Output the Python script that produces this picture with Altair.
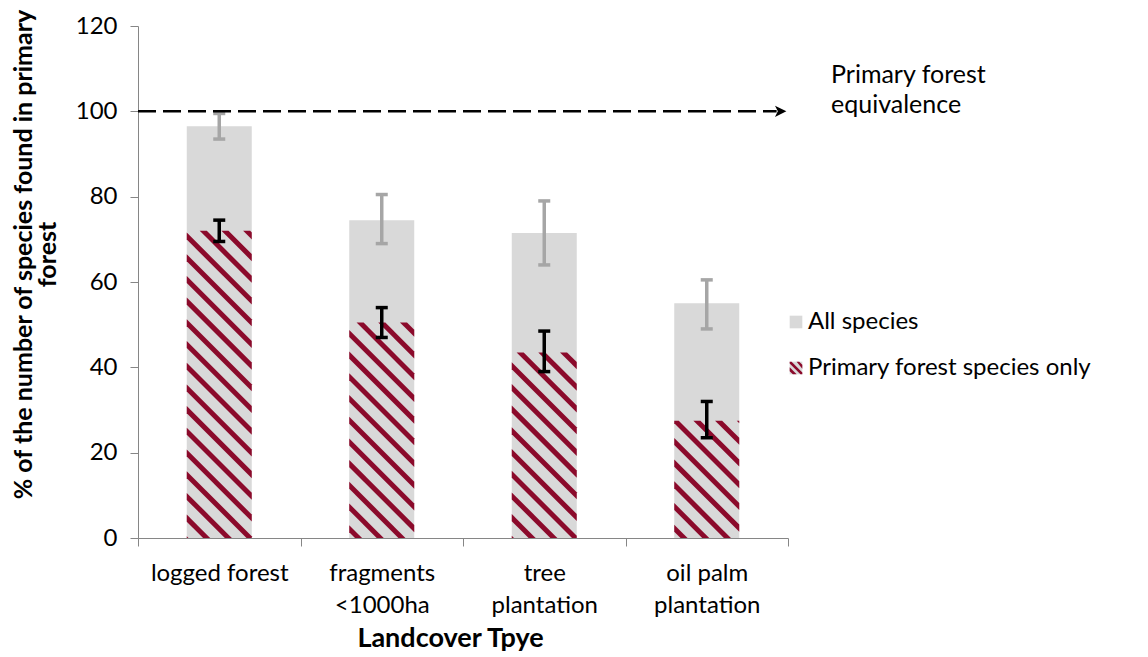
import json
import math
import altair as alt
import pandas as pd

# ---------------- data ----------------
categories = ["logged forest", "fragments\n<1000ha", "tree\nplantation", "oil palm\nplantation"]
series = ["All species", "Primary forest species only"]
all_mean = [96.5, 74.5, 71.5, 55.0]
all_lo = [93.5, 69.0, 64.0, 49.0]
all_hi = [99.5, 80.5, 79.0, 60.5]
prim_mean = [72.0, 50.5, 43.5, 27.5]
prim_lo = [69.5, 47.0, 39.0, 23.5]
prim_hi = [74.5, 54.0, 48.5, 32.0]
ref_value = [100]
ref_label = ["Primary forest\nequivalence"]
y_ticks = [0, 20, 40, 60, 80, 100, 120]

# ---------------- layout / style ----------------
W, H = 650, 512
XMIN, XMAX = -0.5, 3.5
YMAX = 120
BAR_HALF = 0.2
CAP_HALF = 0.037
GRAY = "#D9D9D9"
RED = "#8B0A2B"
ERR_GRAY = "#A6A6A6"
AXIS_GRAY = "#868686"
FONT = "Lato"
HATCH_PATH = ("M-1,-1L-0.7,-1L1,0.7L1,1L0.7,1L-1,-0.7Z"
              "M-1,-0.1L-1,0.5L-0.5,1L0.1,1Z"
              "M0.1,-1L0.5,-1L1,-0.5L1,0.1Z")
EMPTY_PATH = "M0,0Z"

sx = W / (XMAX - XMIN)
sy = H / YMAX
PERIOD = 21.7              # stripe period in px (pattern geometry)
BAND = 5.0 * math.sqrt(2)  # vertical thickness of a stripe in px

idx = list(range(len(categories)))

bars = pd.DataFrame({
    "xl": [i - BAR_HALF for i in idx],
    "xr": [i + BAR_HALF for i in idx],
    "value": all_mean,
})

# hatch stripes: parallelogram bands "\" clipped exactly to each primary-forest bar
rows = []
sid = 0
for i in idx:
    x0px = (i - BAR_HALF - XMIN) * sx
    wpx = 2 * BAR_HALF * sx
    hpx = prim_mean[i] * sy
    kmin = math.floor(x0px / PERIOD) - 2
    kmax = math.ceil((x0px + wpx + hpx) / PERIOD) + 2
    for k in range(kmin, kmax + 1):
        c1 = k * PERIOD - x0px
        c2 = c1 + BAND
        xa = max(0.0, c1 - hpx)
        xb = min(wpx, c2)
        if xb - xa <= 0.3:
            continue
        pts = sorted({xa, xb} | {p for p in (c1, c2 - hpx) if xa < p < xb})
        for p in pts:
            lo = max(0.0, c1 - p)
            hi = min(hpx, c2 - p)
            rows.append({"sid": sid, "x": i - BAR_HALF + p / sx,
                         "lo": lo / sy, "hi": max(hi, lo) / sy})
        sid += 1
stripes = pd.DataFrame(rows)

def err_frames(lo, hi):
    v = pd.DataFrame({"x": idx, "lo": lo, "hi": hi})
    caps = pd.DataFrame({
        "cl": [i - CAP_HALF for i in idx] * 2,
        "cr": [i + CAP_HALF for i in idx] * 2,
        "yv": list(lo) + list(hi),
    })
    return v, caps

all_v, all_caps = err_frames(all_lo, all_hi)
pr_v, pr_caps = err_frames(prim_lo, prim_hi)

ref_df = pd.DataFrame({"x": [XMIN], "x2": [3.43], "y": ref_value})
arrow_df = pd.DataFrame({"x": [3.455], "y": ref_value})
label_df = pd.DataFrame({"t": ref_label})
legend_df = pd.DataFrame({"series": series, "hatch_key": ["h0", "h1"]})

# ---------------- scales / axes ----------------
xscale = alt.Scale(domain=[XMIN, XMAX], nice=False, zero=False)
yscale = alt.Scale(domain=[0, YMAX], nice=False)

cat_js = json.dumps([c.replace("\n", "|") for c in categories])
x_axis_labels = alt.Axis(
    orient="bottom", values=idx, ticks=False, domain=False, grid=False,
    labelExpr=f"split({cat_js}[datum.value], '|')",
    labelFontSize=24, labelColor="#000000", labelFont=FONT,
    labelPadding=35, labelLineHeight=32, labelOverlap=False, labelFlush=False,
    labelBaseline="middle",
    title="Landcover Tpye", titleFontSize=27, titleFontWeight="bold",
    titleFont=FONT, titleColor="#000000", titlePadding=8, titleX=312,
)
x_axis_ticks = alt.Axis(
    orient="bottom", values=[XMIN + k for k in range(5)], labels=False,
    ticks=True, tickSize=8, tickColor=AXIS_GRAY, domain=True,
    domainColor=AXIS_GRAY, grid=False, title=None,
)
y_axis = alt.Axis(
    values=y_ticks, grid=False, domainColor=AXIS_GRAY, tickColor=AXIS_GRAY,
    tickSize=8, labelFontSize=24, labelColor="#000000", labelFont=FONT,
    labelPadding=13,
    title=["% of the number of species found in primary", "forest"],
    titleFontSize=25, titleFontWeight="bold", titleFont=FONT,
    titleColor="#000000", titlePadding=15, titleLineHeight=24, titleY=228,
)

LEG_X, LEG_Y = 646, 284
legend_common = dict(
    orient="none", legendX=LEG_X, legendY=LEG_Y, title=None,
    labelFontSize=24, labelFont=FONT, symbolSize=160, rowPadding=22,
    labelOffset=0, symbolStrokeWidth=0, symbolOpacity=1, labelLimit=600,
)

def Y(field):
    return alt.Y(field, scale=yscale, axis=y_axis)

def X(field, axis=None):
    return alt.X(field, scale=xscale, axis=axis)

# ---------------- layers ----------------
# legend carriers (hidden under the first bar)
legend_gray = alt.Chart(legend_df).mark_point(filled=True, opacity=1, size=100, shape="square").encode(
    x=alt.value(81), y=alt.value(H - 20),
    color=alt.Color("series:N", scale=alt.Scale(domain=series, range=[GRAY, GRAY]),
                    legend=alt.Legend(symbolType="square", labelColor="#000000", **legend_common)),
)
legend_hatch = alt.Chart(legend_df).mark_point(filled=True, opacity=1, size=100, color=RED).encode(
    x=alt.value(81), y=alt.value(H - 20),
    shape=alt.Shape("hatch_key:N", scale=alt.Scale(domain=["h0", "h1"], range=[EMPTY_PATH, HATCH_PATH]),
                    legend=alt.Legend(symbolFillColor=RED, labelColor="transparent",
                                      labelExpr="' '", **legend_common)),
)

bar_layer = alt.Chart(bars).mark_rect(color=GRAY).encode(
    x=X("xl:Q", x_axis_labels),
    x2="xr:Q",
    y=Y("value:Q"),
    y2=alt.datum(0),
)

stripe_layer = alt.Chart(stripes).mark_area(color=RED, opacity=1, interpolate="linear").encode(
    x=X("x:Q"),
    y=alt.Y("lo:Q", scale=yscale, axis=y_axis, stack=None),
    y2="hi:Q",
    detail="sid:N",
)

def err_layers(v, caps, col, width):
    vert = alt.Chart(v).mark_rule(color=col, strokeWidth=width).encode(
        x=X("x:Q"), y=Y("lo:Q"), y2="hi:Q",
    )
    cap = alt.Chart(caps).mark_rule(color=col, strokeWidth=width).encode(
        x=X("cl:Q"), x2="cr:Q", y=Y("yv:Q"),
    )
    return [vert, cap]

ref_layer = alt.Chart(ref_df).mark_rule(color="#000000", strokeWidth=2.5, strokeDash=[18, 7]).encode(
    x=X("x:Q", x_axis_ticks), x2="x2:Q", y=Y("y:Q"),
)

arrow_layer = alt.Chart(arrow_df).mark_point(
    shape="M-1,-1L1,0L-1,1L-0.5,0Z", filled=True, color="#000000", opacity=1, size=130,
).encode(x=X("x:Q"), y=Y("y:Q"))

text_layer = alt.Chart(label_df).mark_text(
    align="left", baseline="top", fontSize=25, font=FONT, color="#000000",
    lineBreak="\n", lineHeight=30,
).encode(
    x=alt.value(W + 43),
    y=alt.value(37),
    text="t:N",
)

chart = alt.layer(
    legend_gray, legend_hatch,
    bar_layer, stripe_layer,
    *err_layers(all_v, all_caps, ERR_GRAY, 3.5),
    *err_layers(pr_v, pr_caps, "#000000", 3.5),
    ref_layer, arrow_layer, text_layer,
).resolve_axis(x="independent").properties(
    width=W, height=H,
    padding={"left": 3, "top": 0, "right": 0, "bottom": 0},
).configure(font=FONT, background="#ffffff", view={"stroke": None})

chart.save("out.html", embed_options={"renderer": "svg", "actions": False})
